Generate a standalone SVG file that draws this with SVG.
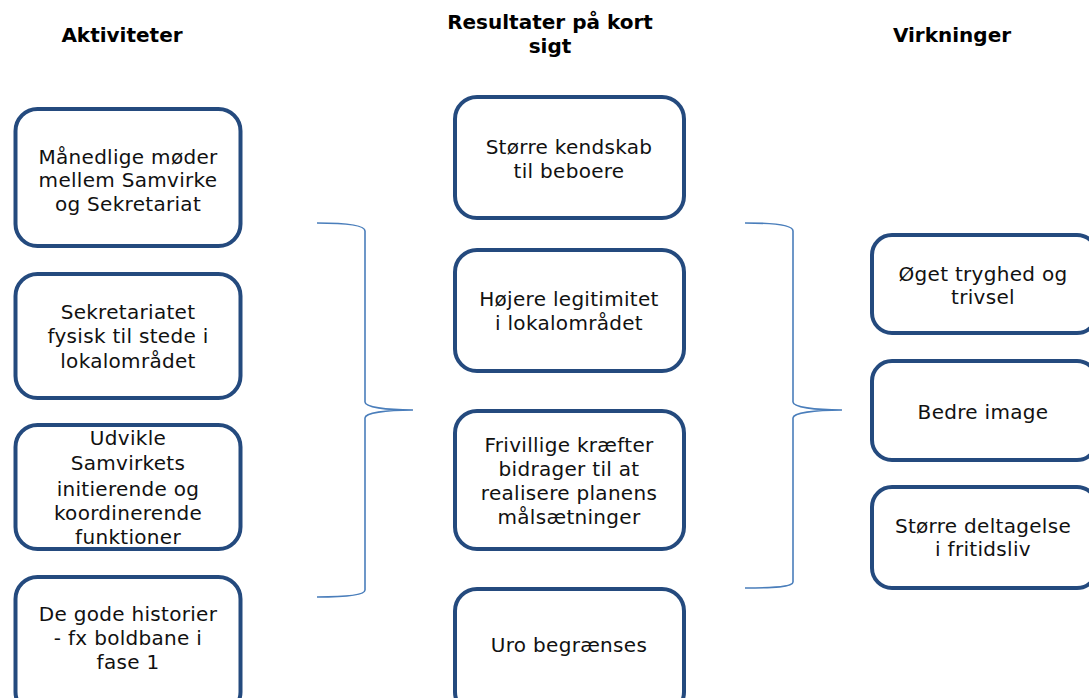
<svg xmlns="http://www.w3.org/2000/svg" width="1089" height="698" viewBox="0 0 1089 698">
<style>
.box{fill:#fff;stroke:#244a7e;stroke-width:4}
.t{font-family:"DejaVu Sans",Verdana,sans-serif;font-size:20px;letter-spacing:0.3px;fill:#111;text-anchor:middle}
.h{font-family:"DejaVu Sans",Verdana,sans-serif;font-size:20px;font-weight:bold;fill:#000;text-anchor:middle}
.br{fill:none;stroke:#4a7ebb;stroke-width:1.6}
</style>
<rect width="1089" height="698" fill="#fff"/>
<g id="headers">
<text class="h" x="122" y="42">Aktiviteter</text>
<text class="h" x="550" y="29">Resultater på kort</text>
<text class="h" x="550" y="53">sigt</text>
<text class="h" x="952" y="42">Virkninger</text>
</g>
<g id="a1"><rect class="box" x="15.5" y="109" width="225" height="137" rx="22"/>
<text class="t" x="128" y="164">Månedlige møder</text><text class="t" x="128" y="187">mellem Samvirke</text><text class="t" x="128" y="211">og Sekretariat</text></g>
<g id="a2"><rect class="box" x="15.5" y="274" width="225" height="124" rx="22"/>
<text class="t" x="128" y="319">Sekretariatet</text><text class="t" x="128" y="343">fysisk til stede i</text><text class="t" x="128" y="368">lokalområdet</text></g>
<g id="a3"><rect class="box" x="15.5" y="425" width="225" height="124" rx="22"/>
<text class="t" x="128" y="445">Udvikle</text><text class="t" x="128" y="470">Samvirkets</text><text class="t" x="128" y="496">initierende og</text><text class="t" x="128" y="520">koordinerende</text><text class="t" x="128" y="544">funktioner</text></g>
<g id="a4"><rect class="box" x="15.5" y="577" width="225" height="137" rx="22"/>
<text class="t" x="128" y="621">De gode historier</text><text class="t" x="128" y="645">- fx boldbane i</text><text class="t" x="128" y="669">fase 1</text></g>
<g id="r1"><rect class="box" x="455" y="97" width="229" height="121" rx="22"/>
<text class="t" x="569" y="154">Større kendskab</text><text class="t" x="569" y="178">til beboere</text></g>
<g id="r2"><rect class="box" x="455" y="250" width="229" height="121" rx="22"/>
<text class="t" x="569" y="306">Højere legitimitet</text><text class="t" x="569" y="330">i lokalområdet</text></g>
<g id="r3"><rect class="box" x="455" y="411" width="229" height="138" rx="22"/>
<text class="t" x="569" y="452">Frivillige kræfter</text><text class="t" x="569" y="476">bidrager til at</text><text class="t" x="569" y="500">realisere planens</text><text class="t" x="569" y="524">målsætninger</text></g>
<g id="r4"><rect class="box" x="455" y="589" width="229" height="125" rx="22"/>
<text class="t" x="569" y="652">Uro begrænses</text></g>
<g id="v1"><rect class="box" x="872" y="235" width="225" height="98" rx="20"/>
<text class="t" x="983" y="281">Øget tryghed og</text><text class="t" x="983" y="304">trivsel</text></g>
<g id="v2"><rect class="box" x="872" y="361" width="225" height="99" rx="20"/>
<text class="t" x="983" y="419">Bedre image</text></g>
<g id="v3"><rect class="box" x="872" y="487" width="225" height="101" rx="20"/>
<text class="t" x="983" y="533">Større deltagelse</text><text class="t" x="983" y="556">i fritidsliv</text></g>
<g id="connectors">
<path class="br" d="M317,223 C345,223 365,225 365,231 L365,402 C365,407 385,410 413,410 C385,410 365,413 365,418 L365,590 C365,595 345,597 317,597"/>
<path class="br" d="M745,223 C773,223 793,225 793,231 L793,402 C793,407 814,410 842,410 C814,410 793,413 793,418 L793,582 C793,587 773,588 745,588"/>
</g>
</svg>
